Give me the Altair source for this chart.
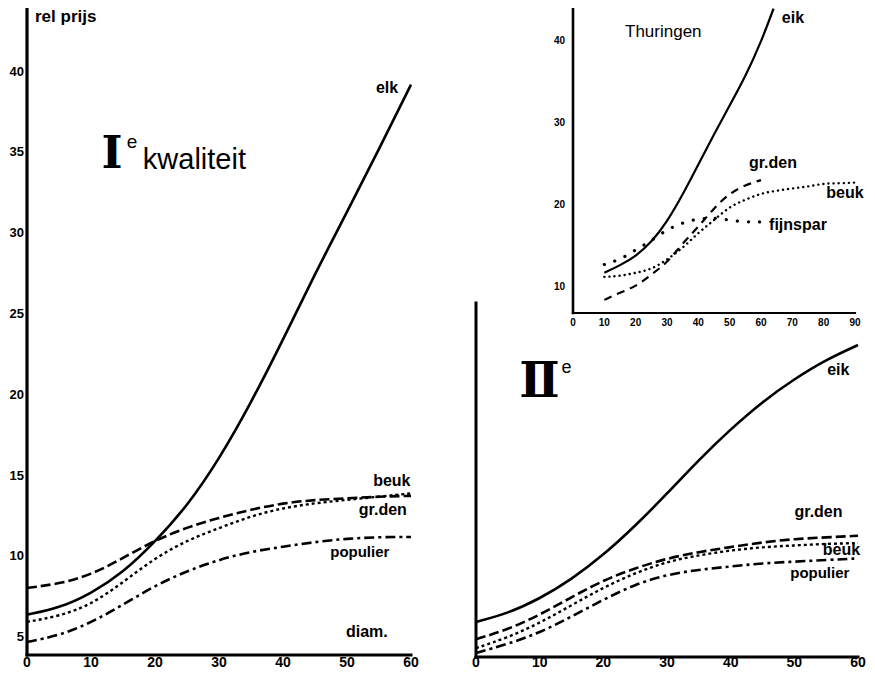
import altair as alt
import pandas as pd

# ---------------- data ----------------
# Panel I^e kwaliteit (diameter vs relative price)
diam_I = [0, 5, 10, 15, 20, 25, 30, 35, 40, 45, 50, 55, 60]
elk_I = [6.4, 6.8, 7.7, 9.0, 10.9, 13.1, 16.0, 19.5, 23.4, 27.5, 31.3, 35.2, 39.2]
beuk_I = [8.05, 8.3, 8.85, 9.9, 11.0, 11.8, 12.4, 12.9, 13.3, 13.5, 13.6, 13.7, 13.75]
grden_I = [5.95, 6.3, 7.0, 8.4, 9.9, 11.0, 11.75, 12.5, 13.0, 13.3, 13.5, 13.7, 13.9]
populier_I = [4.7, 5.1, 5.9, 7.0, 8.2, 9.1, 9.8, 10.3, 10.6, 10.9, 11.1, 11.2, 11.2]

# Panel II^e
diam_II = [0, 5, 10, 15, 20, 25, 30, 35, 40, 45, 50, 55, 60]
elk_II = [6.07, 6.6, 7.5, 8.7, 10.2, 12.0, 14.0, 16.1, 18.0, 19.7, 21.1, 22.3, 23.2]
grden_II = [5.0, 5.6, 6.5, 7.6, 8.65, 9.4, 10.0, 10.4, 10.7, 11.0, 11.2, 11.3, 11.4]
beuk_II = [4.45, 5.1, 6.0, 7.1, 8.2, 9.1, 9.8, 10.2, 10.5, 10.7, 10.8, 10.9, 10.95]
populier_II = [4.15, 4.7, 5.4, 6.4, 7.45, 8.4, 9.0, 9.3, 9.5, 9.7, 9.8, 9.9, 10.0]

# Inset Thuringen
diam_th_eik = [10, 15, 20, 25, 30, 35, 40, 45, 50, 55, 60, 64]
eik_th = [11.7, 12.6, 13.7, 15.4, 17.9, 21.2, 24.9, 28.6, 32.1, 35.6, 39.8, 43.9]
diam_th_grden = [10, 15, 20, 25, 30, 35, 40, 45, 50, 55, 60]
grden_th = [8.4, 9.3, 10.0, 11.5, 12.9, 15.3, 17.3, 19.6, 21.4, 22.4, 23.0]
diam_th_beuk = [10, 15, 20, 25, 30, 35, 40, 45, 50, 55, 60, 65, 70, 75, 80, 85, 90]
beuk_th = [11.2, 11.3, 11.7, 12.1, 13.3, 14.7, 16.6, 18.1, 19.8, 20.6, 21.4, 21.7, 22.0, 22.2, 22.6, 22.6, 22.7]
diam_th_fijnspar = [10, 15, 20, 25, 30, 35, 40, 45, 50, 55, 60]
fijnspar_th = [12.7, 13.3, 14.5, 15.6, 17.0, 17.8, 18.3, 18.4, 18.1, 17.9, 17.9]

# tick labels
xticks_I = [0, 10, 20, 30, 40, 50, 60]
yticks_I = [5, 10, 15, 20, 25, 30, 35, 40]
xticks_II = [0, 10, 20, 30, 40, 50, 60]
yticks_II = []
xticks_th = [0, 10, 20, 30, 40, 50, 60, 70, 80, 90]
yticks_th = [10, 20, 30, 40]

# ---------------- layout / styles ----------------
W, H = 859, 662
LABEL_FONT = "Liberation Sans"

DASH_LONG = [10, 4]
DASH_DOT = [3, 3]
DASH_DASHDOT = [10, 4, 3, 4]


def make_panel(curves, texts, xdom, ydom, xrange_, yrange_, xticks, yticks, ax):
    xscale = alt.Scale(domain=xdom, range=xrange_, nice=False, zero=False)
    yscale = alt.Scale(domain=ydom, range=yrange_, nice=False, zero=False)
    X = lambda f: alt.X(f, scale=xscale, axis=None)
    Y = lambda f: alt.Y(f, scale=yscale, axis=None)
    layers = []
    # axis lines (data space, through the panel's scales)
    xline = pd.DataFrame({"d": [xdom[0]], "d2": [xdom[1]], "v": [ydom[0]]})
    yline = pd.DataFrame({"d": [xdom[0]], "v": [ydom[0]], "v2": [ydom[1]]})
    layers.append(alt.Chart(xline).mark_rule(color="black", strokeWidth=ax["xw"], strokeCap="square").encode(
        x=X("d:Q"), x2="d2:Q", y=Y("v:Q")))
    layers.append(alt.Chart(yline).mark_rule(color="black", strokeWidth=ax["yw"], strokeCap="square").encode(
        x=X("d:Q"), y=Y("v:Q"), y2="v2:Q"))
    # tick labels
    if xticks:
        xl = pd.DataFrame({"d": xticks, "v": [ydom[0]] * len(xticks), "t": [str(t) for t in xticks]})
        layers.append(alt.Chart(xl).mark_text(
            align="center", baseline="alphabetic", dy=ax["xpad"], font=LABEL_FONT,
            fontSize=ax["xsize"], fontWeight="bold", color="black").encode(
            x=X("d:Q"), y=Y("v:Q"), text="t:N"))
    if yticks:
        yl = pd.DataFrame({"d": [xdom[0]] * len(yticks), "v": yticks, "t": [str(t) for t in yticks]})
        layers.append(alt.Chart(yl).mark_text(
            align="right", baseline="middle", dx=-ax["ypad"], font=LABEL_FONT,
            fontSize=ax["ysize"], fontWeight="bold", color="black").encode(
            x=X("d:Q"), y=Y("v:Q"), text="t:N"))
    # curves
    for xs, vs, dash, width, cap in curves:
        df = pd.DataFrame({"d": xs, "v": vs})
        kw = dict(color="black", strokeWidth=width, interpolate="basis", strokeCap=cap)
        if dash is not None:
            kw["strokeDash"] = dash
        layers.append(alt.Chart(df).mark_line(**kw).encode(x=X("d:Q"), y=Y("v:Q")))
    # annotations
    for txt, tx, ty, align, font, size, weight in texts:
        df = pd.DataFrame({"d": [tx], "v": [ty], "t": [txt]})
        layers.append(alt.Chart(df).mark_text(
            align=align, baseline="alphabetic", font=font, fontSize=size,
            fontWeight=weight, color="black").encode(x=X("d:Q"), y=Y("v:Q"), text="t:N"))
    return alt.layer(*layers)


# Panel I
panel_I = make_panel(
    [
        (diam_I, elk_I, None, 2.6, "butt"),
        (diam_I, beuk_I, DASH_LONG, 2.6, "butt"),
        (diam_I, grden_I, DASH_DOT, 2.4, "butt"),
        (diam_I, populier_I, DASH_DASHDOT, 2.6, "butt"),
    ],
    [
        ("rel prijs", 1.25, 43.1, "left", LABEL_FONT, 17, "bold"),
        ("elk", 56.25, 38.7, "center", LABEL_FONT, 16, "bold"),
        ("beuk", 57.0, 14.36, "center", LABEL_FONT, 16, "bold"),
        ("gr.den", 55.6, 12.56, "center", LABEL_FONT, 16, "bold"),
        ("populier", 52.0, 9.96, "center", LABEL_FONT, 15, "bold"),
        ("diam.", 53.1, 5.0, "center", LABEL_FONT, 16, "bold"),
        ("I", 13.3, 34.05, "center", "DejaVu Serif", 45, "bold"),
        ("e", 16.4, 35.3, "center", LABEL_FONT, 19, "normal"),
        ("kwaliteit", 18.1, 34.0, "left", LABEL_FONT, 29, "normal"),
    ],
    [0, 60], [3.9, 44], [19, 403], [647, -1], xticks_I, yticks_I,
    dict(xw=3, yw=3.2, xpad=12, ypad=3, xsize=14, ysize=13),
)

# Panel II
panel_II = make_panel(
    [
        (diam_II, elk_II, None, 2.6, "butt"),
        (diam_II, grden_II, DASH_LONG, 2.6, "butt"),
        (diam_II, beuk_II, DASH_DOT, 2.4, "butt"),
        (diam_II, populier_II, DASH_DASHDOT, 2.6, "butt"),
    ],
    [
        ("Ⅱ", 9.95, 20.0, "center", "DejaVu Serif", 48, "bold"),
        ("e", 14.2, 21.5, "center", LABEL_FONT, 18, "normal"),
        ("eik", 56.9, 21.35, "center", LABEL_FONT, 16, "bold"),
        ("gr.den", 53.8, 12.56, "center", LABEL_FONT, 16, "bold"),
        ("beuk", 57.4, 10.2, "center", LABEL_FONT, 16, "bold"),
        ("populier", 54.0, 8.8, "center", LABEL_FONT, 15, "bold"),
    ],
    [0, 60], [3.9, 25.8], [468, 850], [649, 295], xticks_II, yticks_II,
    dict(xw=3, yw=3, xpad=10, ypad=5, xsize=14, ysize=13),
)

# Inset Thuringen
panel_th = make_panel(
    [
        (diam_th_eik, eik_th, None, 2.2, "butt"),
        (diam_th_grden, grden_th, [8, 6], 2.2, "butt"),
        (diam_th_beuk, beuk_th, [0.1, 5], 2.4, "round"),
        (diam_th_fijnspar, fijnspar_th, [0.1, 11], 3.2, "round"),
    ],
    [
        ("Thuringen", 16.6, 40.4, "left", LABEL_FONT, 17, "normal"),
        ("eik", 70.2, 42.2, "center", LABEL_FONT, 16, "bold"),
        ("gr.den", 63.8, 24.5, "center", LABEL_FONT, 16, "bold"),
        ("beuk", 86.8, 20.8, "center", LABEL_FONT, 16, "bold"),
        ("fijnspar", 71.8, 16.9, "center", LABEL_FONT, 16, "bold"),
    ],
    [0, 90], [6.8, 44.1], [565, 847], [305, -1], xticks_th, yticks_th,
    dict(xw=2.2, yw=2.6, xpad=13, ypad=8, xsize=10, ysize=10),
)

chart = (
    alt.layer(panel_I, panel_II, panel_th)
    .resolve_scale(x="independent", y="independent")
    .properties(
        width=W, height=H,
        autosize=alt.AutoSizeParams(type="none"),
        padding={"left": 0, "top": 0, "right": 0, "bottom": 0},
        background="white",
    )
    .configure_view(stroke=None)
)

chart.save("out.html", embed_options={"renderer": "svg", "actions": False})
